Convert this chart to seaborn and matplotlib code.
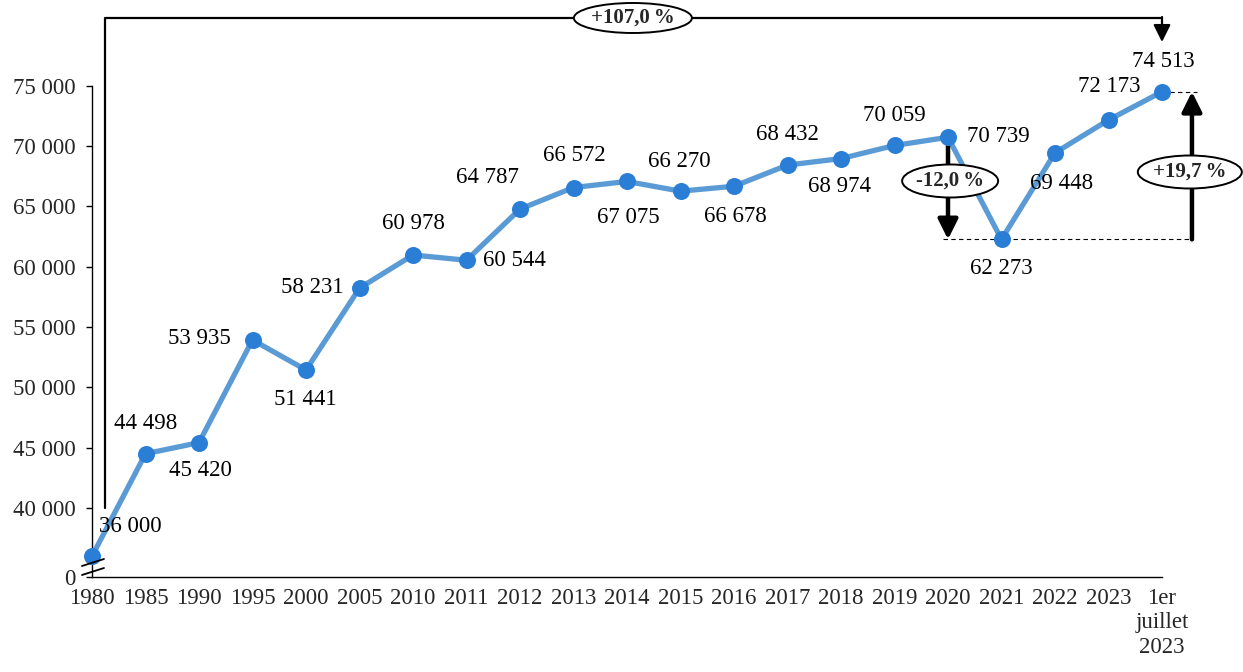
import matplotlib
matplotlib.use("Agg")
import matplotlib.pyplot as plt
from matplotlib.patches import Ellipse
import seaborn as sns
import pandas as pd

# ---- data ----
categories = ["1980", "1985", "1990", "1995", "2000", "2005", "2010", "2011", "2012",
              "2013", "2014", "2015", "2016", "2017", "2018", "2019", "2020", "2021",
              "2022", "2023", "1er\njuillet\n2023"]
values = [36000, 44498, 45420, 53935, 51441, 58231, 60978, 60544, 64787,
          66572, 67075, 66270, 66678, 68432, 68974, 70059, 70739, 62273,
          69448, 72173, 74513]
ytick_values = [40000, 45000, 50000, 55000, 60000, 65000, 70000, 75000]
pct_total = "+107,0\u2009%"
pct_drop = "-12,0\u2009%"
pct_rise = "+19,7\u2009%"

# label offsets (pixels) relative to each point: (dx, dy) with dy positive = up
label_offsets = [(38, 30), (0, 30), (1, -28), (-53, 1), (-1, -29), (-47, 1), (0, 31),
                 (48, 0), (-33, 32), (1, 32), (1, -36), (-1, 30), (1, -30), (0, 31),
                 (-1, -28), (0, 30), (50, 1), (0, -29), (7, -31), (1, 33), (1, 30)]

def fmt(v):
    return f"{v:,}".replace(",", " ")

FS = 16.5

sns.set_style("white")
plt.rcParams["font.family"] = ["Liberation Serif", "DejaVu Serif"]
plt.rcParams["font.size"] = FS

df = pd.DataFrame({"period": categories, "population": values})

fig = plt.figure(figsize=(12.43, 6.72), dpi=100)
ax = fig.add_axes([92 / 1243, 95 / 672, 1070 / 1243, 1 - 95 / 672])

line_color = "#5b9bd5"
marker_color = "#2a7ed6"
sns.lineplot(data=df, x="period", y="population", sort=False, ax=ax,
             color=line_color, lw=3.8, zorder=2)
sns.scatterplot(data=df, x="period", y="population", ax=ax, color=marker_color,
                s=150, edgecolor=marker_color, linewidth=0, zorder=3)
for art in ax.lines + ax.collections:
    art.set_clip_on(False)

ymin, ymax = 34278, 82122
ax.set_ylim(ymin, ymax)
ax.set_xlim(0, len(categories) - 1)

ax.set_yticks([ymin] + ytick_values)
ax.set_yticklabels(["0"] + [fmt(v) for v in ytick_values], fontsize=FS)
ax.set_xticks(range(len(categories)))
ax.set_xticklabels(categories, fontsize=FS, linespacing=1.2)
ax.set_xlabel("")
ax.set_ylabel("")

for s in ["top", "right"]:
    ax.spines[s].set_visible(False)
ax.spines["left"].set_bounds(ymin, 75000)
ax.spines["left"].set_color("black")
ax.spines["bottom"].set_color("black")
ax.spines["left"].set_linewidth(1.0)
ax.spines["bottom"].set_linewidth(1.0)
ax.tick_params(axis="y", direction="out", length=4, width=1, color="black", pad=8, left=True)
ax.tick_params(axis="x", length=0, pad=8)

# data labels
for i, (v, (dx, dy)) in enumerate(zip(values, label_offsets)):
    ax.annotate(fmt(v), (i, v), xytext=(dx * 0.72, dy * 0.72), textcoords="offset points",
                ha="center", va="center", fontsize=FS, color="black", zorder=5)

# axis break marks
for (y0, y1) in [(35190, 35770), (34444, 35024)]:
    ax.plot([-0.187, 0.224], [y0, y1], color="black", lw=1.3, clip_on=False, zorder=6)

xpx = 53.5      # pixels per category step
ypx = 0.01206   # pixels per unit of population


def bubble(x, y, wpx, hpx, text):
    e = Ellipse((x, y), wpx / xpx, hpx / ypx, fc="white", ec="black", lw=1.4,
                zorder=7, clip_on=False)
    ax.add_patch(e)
    ax.text(x, y, text, ha="center", va="center", fontsize=15, fontweight="bold",
            zorder=8, clip_on=False)


# top bracket +107,0 %
xb = 0.243
ytop = 80630
ax.plot([xb, xb, 20], [40000, ytop, ytop], color="black", lw=1.6, clip_on=False, zorder=4)
ax.annotate("", xy=(20, 78640), xytext=(20, ytop + 80),
            arrowprops=dict(arrowstyle="-|>", color="black", lw=1.6, mutation_scale=26,
                            shrinkA=0, shrinkB=0), annotation_clip=False, zorder=4)
bubble(10.11, ytop, 118, 30, pct_total)

# -12,0 % drop
ax.plot([15.9, 20.56], [values[17], values[17]], color="black", lw=0.8, ls=(0, (4, 3)),
        zorder=1, clip_on=False)
ax.annotate("", xy=(16, values[17]), xytext=(16, values[16]),
            arrowprops=dict(arrowstyle="-|>", color="black", lw=3.2, mutation_scale=30,
                            shrinkA=0, shrinkB=0), zorder=2)
bubble(16.04, 67114, 96, 33, pct_drop)

# +19,7 % rise
ax.plot([20, 20.65], [values[20], values[20]], color="black", lw=0.8, ls=(0, (4, 3)),
        clip_on=False, zorder=1)
ax.annotate("", xy=(20.56, values[20]), xytext=(20.56, values[17]),
            arrowprops=dict(arrowstyle="-|>", color="black", lw=3.2, mutation_scale=30,
                            shrinkA=0, shrinkB=0), annotation_clip=False, zorder=2)
bubble(20.52, 67860, 104, 33, pct_rise)

fig.savefig("out.png", dpi=100, facecolor="white")
